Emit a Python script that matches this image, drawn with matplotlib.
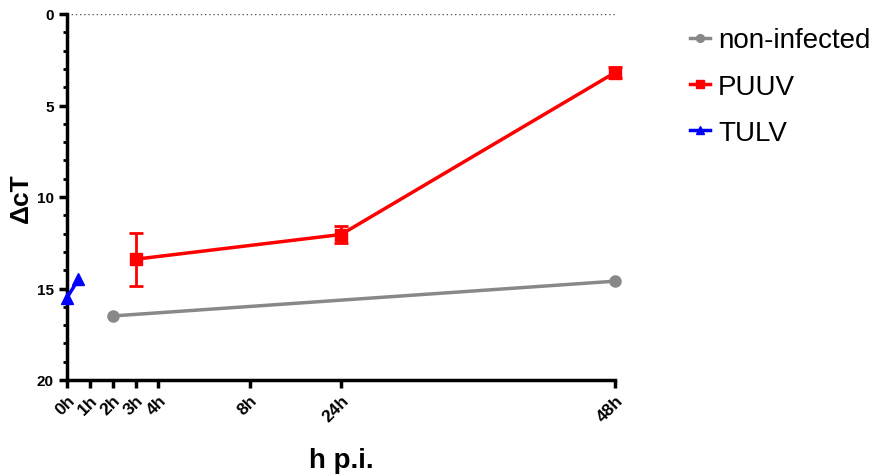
import matplotlib.pyplot as plt
import numpy as np

plt.rcParams['font.family'] = ['Liberation Sans', 'DejaVu Sans']

# x axis is segmented: hours -> plotted position
seg_hours = [0, 8, 24, 48]
seg_pos = [0, 8, 12, 24]

def fwd(h):
    return np.interp(h, seg_hours, seg_pos)

def inv(p):
    return np.interp(p, seg_pos, seg_hours)

tick_hours = [0, 1, 2, 3, 4, 8, 24, 48]
tick_labels = ["0h", "1h", "2h", "3h", "4h", "8h", "24h", "48h"]

noninf_h = [2, 48]
noninf_y = [16.5, 14.6]

puuv_h = [3, 24, 48]
puuv_y = [13.4, 12.05, 3.2]
puuv_err = [1.45, 0.45, 0.3]

tulv_h = [0, 0.5]
tulv_y = [15.5, 14.5]

fig = plt.figure(figsize=(8.77, 4.77), dpi=100)
ax = fig.add_axes([67/877, 1-381/477, (615-67)/877, (381-15)/477])
ax.set_xscale('function', functions=(fwd, inv))

ax.axhline(0, color='#555555', ls=(0, (1, 2)), lw=1, zorder=1)

l1, = ax.plot(noninf_h, noninf_y, color='#888888', marker='o', ms=8, lw=2.5,
              label='non-infected', clip_on=False, zorder=3)
eb = ax.errorbar(puuv_h, puuv_y, yerr=puuv_err, color='red', marker='s', ms=8,
                 lw=2.5, elinewidth=2, capsize=5, capthick=2, label='PUUV',
                 clip_on=False, zorder=4)
l3, = ax.plot(tulv_h, tulv_y, color='blue', marker='^', ms=8, lw=2.5,
              label='TULV', clip_on=False, zorder=5)

ax.set_xlim(0, 48)
ax.set_ylim(20, 0)
ax.set_yticks([0, 5, 10, 15, 20])
ax.set_yticks(np.arange(0, 21, 1), minor=True)
ax.set_xticks(tick_hours)
ax.set_xticklabels(tick_labels, rotation=45, ha='right', rotation_mode='anchor')
ax.xaxis.set_minor_locator(plt.NullLocator())

for s in ['top', 'right']:
    ax.spines[s].set_visible(False)
for s in ['left', 'bottom']:
    ax.spines[s].set_linewidth(2.5)

ax.tick_params(axis='x', which='major', width=2.5, length=6, labelsize=12.5, pad=3)
ax.tick_params(axis='y', which='major', width=2.5, length=6, labelsize=11)
ax.tick_params(axis='y', which='minor', width=2, length=3)
for lab in ax.get_xticklabels() + ax.get_yticklabels():
    lab.set_fontweight('bold')

ax.set_ylabel('ΔcT', fontsize=19, fontweight='bold')
ax.yaxis.set_label_coords(-0.062, 0.5)
ax.set_xlabel('h p.i.', fontsize=20, fontweight='bold', labelpad=16)

leg = ax.legend([l1, eb.lines[0], l3], ['non-infected', 'PUUV', 'TULV'],
                loc='upper left', bbox_to_anchor=(1.0915, 1.032), frameon=False,
                fontsize=20, handlelength=0.7, labelspacing=0.73,
                markerscale=0.7, handletextpad=0.3)

plt.savefig('out.png', dpi=100)
